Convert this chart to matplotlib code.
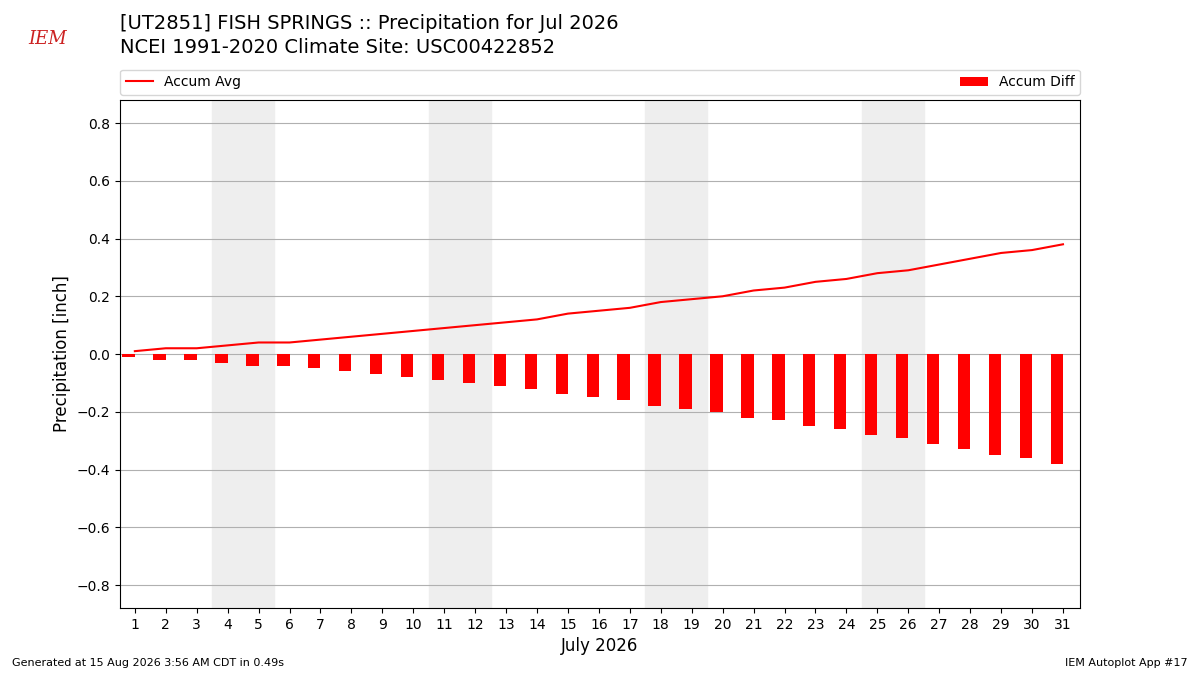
import matplotlib
matplotlib.use('Agg')
import matplotlib.pyplot as plt

days = list(range(1, 32))
accum_avg = [0.01, 0.02, 0.02, 0.03, 0.04, 0.04, 0.05, 0.06, 0.07, 0.08,
             0.09, 0.10, 0.11, 0.12, 0.14, 0.15, 0.16, 0.18, 0.19, 0.20,
             0.22, 0.23, 0.25, 0.26, 0.28, 0.29, 0.31, 0.33, 0.35, 0.36, 0.38]
accum_obs = [0.0] * 31
accum_diff = [o - a for o, a in zip(accum_obs, accum_avg)]
weekends = [4, 11, 18, 25]

fig = plt.figure(figsize=(12, 6.75), dpi=100)
ax = fig.add_axes([0.1, 0.099, 0.8, 0.753])

for w in weekends:
    ax.axvspan(w - 0.5, w + 1.5, color='#eeeeee', zorder=0)

ax.bar([d - 0.2 for d in days], accum_diff, width=0.4, color='red', label='Accum Diff', zorder=2)
ax.plot(days, accum_avg, color='red', lw=1.5, label='Accum Avg', zorder=3)

ax.set_xlim(0.52, 31.55)
ax.set_ylim(-0.88, 0.88)
ax.set_xticks(days)
ax.set_yticks([-0.8, -0.6, -0.4, -0.2, 0.0, 0.2, 0.4, 0.6, 0.8])
ax.yaxis.grid(True, color='#b0b0b0')
ax.set_axisbelow(True)
ax.set_xlabel('July 2026', fontsize=12)
ax.set_ylabel('Precipitation [inch]', fontsize=12)
ax.legend(bbox_to_anchor=(0, 1.01, 1, 0.05), loc='lower left', ncol=2, mode='expand', borderaxespad=0)

fig.text(0.1, 0.965, '[UT2851] FISH SPRINGS :: Precipitation for Jul 2026', fontsize=14, va='center')
fig.text(0.1, 0.93, 'NCEI 1991-2020 Climate Site: USC00422852', fontsize=14, va='center')
fig.text(0.01, 0.013, 'Generated at 15 Aug 2026 3:56 AM CDT in 0.49s', fontsize=8)
fig.text(0.99, 0.013, 'IEM Autoplot App #17', fontsize=8, ha='right')
fig.text(0.04, 0.935, 'IEM', fontsize=13, color='#cc2222', style='italic', ha='center', family='serif')

fig.savefig('out.png', dpi=100)
